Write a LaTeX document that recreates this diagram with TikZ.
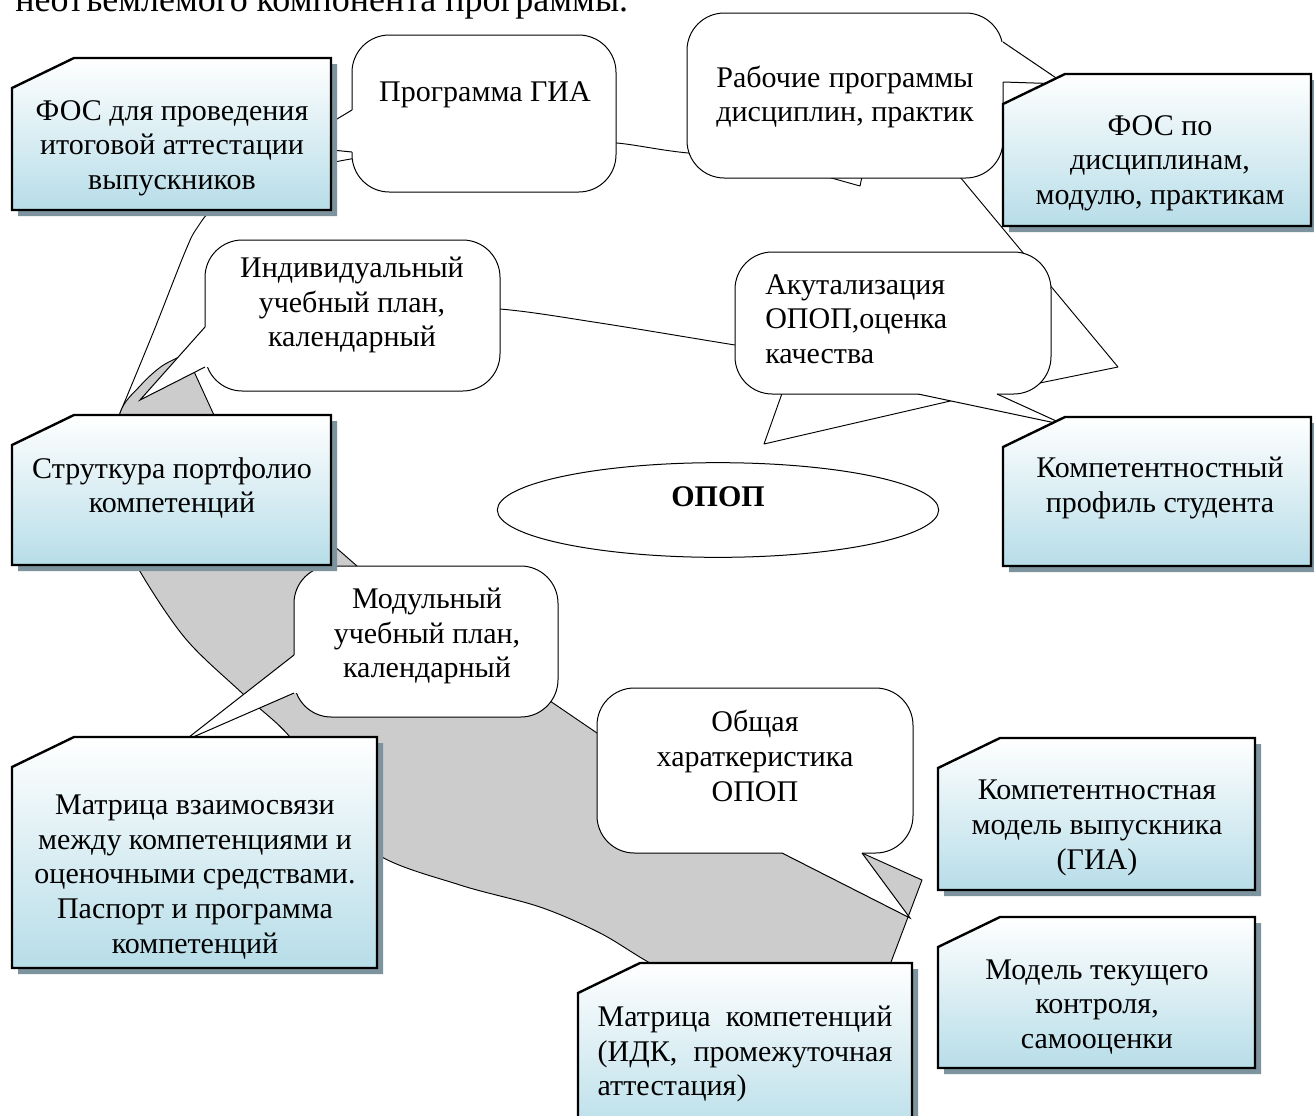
\documentclass[tikz,border=0pt]{standalone}
\usepackage{fontspec}
\setmainfont{Liberation Serif}
\usepackage{calc}
\usetikzlibrary{calc, shapes.geometric}
\definecolor{fosBlue}{RGB}{183,221,232}
\definecolor{fosShadow}{RGB}{125,148,158}
\definecolor{ringGray}{RGB}{204,204,204}

% snipped box with shadow: x1, y1, x2, y2
\newcommand{\fosbox}[4]{%
  \fill[fosShadow] (#1+6,#2+36) -- (#1+68,#2+6) -- (#3+6,#2+6) -- (#3+6,#4+6) -- (#1+6,#4+6) -- cycle;
  \draw[fosframe] (#1,#2+30) -- (#1+62,#2) -- (#3,#2) -- (#3,#4) -- (#1,#4) -- cycle;}
% callout tail: base 1, tip, base 2, shift into the body
\newcommand{\bubbletail}[4]{%
  \fill[white] (#1) -- (#2) -- (#3) -- ($(#3)+(#4)$) -- ($(#1)+(#4)$) -- cycle;
  \draw[bubbleline] (#1) -- (#2) -- (#3);}

\begin{document}
\begin{tikzpicture}[
        x=0.75pt, y=-0.75pt,
        lbl/.style={font=\fontsize{22.5}{26}\selectfont, align=center, inner sep=0pt},
        bubble/.style={draw, fill=white, line width=0.75pt, rounded corners=28pt},
        bubbleline/.style={draw, line width=0.75pt},
        ring/.style={draw, line width=0.7pt, line join=round},
        fosframe/.style={draw, line width=1.8pt, top color=white, bottom color=fosBlue}
    ]
        \fill[white] (0,0) rectangle (1314,1115);
        \useasboundingbox (0,0) rectangle (1314,1115);

        % Text line above the figure
        \node[anchor=base west, inner sep=0pt, font=\fontsize{27}{32}\selectfont] (prevline) at (15,11) {неотъемлемого компонента программы.};

        % Ring, upper part
        \draw[ring, fill=white]
            plot[smooth, tension=0.55] coordinates {(120,413) (153,333) (185,252) (197,228) (216,207) (270,180) (345,160) (450,147) (560,141) (617,143) (688,153) (800,161) (900,167) (955,171)}
            -- (1118,367) -- (1025,386)
            -- plot[smooth, tension=0.55] coordinates {(950,376) (850,363) (735,345) (600,323) (500,309) (400,306) (300,315) (230,334) (186,354)}
            -- (190,395) -- cycle;

        % Ring, grey part
        \draw[ring, fill=ringGray]
            plot[smooth, tension=0.55] coordinates {(186,354) (162,366) (140,386) (120,413) (112,470) (120,525) (138,568) (185,638) (242,693) (290,737) (330,798) (377,854) (460,885) (540,907) (600,933) (650,963) (720,1000) (800,1012)}
            -- (888,970) -- (922,880) -- (862,853) -- (800,828) -- (597,733) -- (553,703) -- (540,694)
            -- (380,586) -- (357,566) -- (333,545) -- (320,534) -- (225,435) -- (213,413) -- cycle;

        % Wedges behind the callouts
        \draw[ring, fill=white] (810,172) -- (860,186) -- (863,172);
        \draw[ring, fill=white] (785,385) -- (764,444) -- (998,390);

        % Centre
        \node[draw, ellipse, line width=0.75pt, minimum width=331pt, minimum height=71pt] (opop) at (718,510) {};
        \node[lbl, font=\fontsize{22.5}{26}\selectfont\bfseries] (opoptxt) at (718,497) {ОПОП};

        % Callouts
        \draw[bubble] (352,35) rectangle (616,192);
        \bubbletail{352,110}{292,146}{352,152}{5,0}
        \draw[bubble] (687,13) rectangle (1003,178);
        \bubbletail{1003,42}{1065,84}{1003,82}{-5,0}
        \draw[bubble] (205,240) rectangle (500,391);
        \bubbletail{205,327}{140,400}{205,367}{5,0}
        \draw[bubble] (735,252) rectangle (1051,394);
        \bubbletail{918,394}{1065,425}{997,394}{0,-5}
        \draw[bubble] (294,566) rectangle (558,717);
        \bubbletail{294,655}{184,741}{294,693}{5,0}
        \draw[bubble] (597,688) rectangle (913,853);
        \bubbletail{782,853}{910,918}{862,853}{0,-5}

        % Boxes
        \fosbox{12}{58}{331}{210}
        \fosbox{1003}{74}{1311}{226}
        \fosbox{12}{415}{331}{565}
        \fosbox{1003}{417}{1311}{566}
        \fosbox{12}{737}{377}{968}
        \fosbox{578}{963}{912}{1140}
        \fosbox{938}{738}{1255}{890}
        \fosbox{938}{917}{1255}{1068}

        % Labels
        \node[lbl] (tfosgia) at (172,148) {ФОС для проведения\\итоговой аттестации\\выпускников};
        \node[lbl] (tgia) at (485,95) {Программа ГИА};
        \node[lbl] (trp) at (845,97) {\makebox[\widthof{дисциплин, практик}][s]{Рабочие программы}\\дисциплин, практик};
        \node[lbl] (tfosd) at (1160,163) {ФОС по\\дисциплинам,\\модулю, практикам};
        \node[lbl] (tiup) at (352,305) {Индивидуальный\\учебный план,\\календарный};
        \node[lbl, align=left, anchor=west] (takt) at (765,319) {Акутализация\\ОПОП,оценка\\качества};
        \node[lbl] (tport) at (172,488) {Струткура портфолио\\компетенций};
        \node[lbl] (tprof) at (1160,488) {Компетентностный\\профиль студента};
        \node[lbl] (tmup) at (427,636) {Модульный\\учебный план,\\календарный};
        \node[lbl] (tobsh) at (755,756) {Общая\\хараткеристика\\ОПОП};
        \node[lbl] (tmatr) at (195,877) {Матрица взаимосвязи\\между компетенциями и\\оценочными средствами.\\Паспорт и программа\\компетенций};
        \node[lbl] (tmodel) at (1097,828) {Компетентностная\\модель выпускника\\(ГИА)};
        \node[lbl] (ttek) at (1097,1007) {Модель текущего\\контроля,\\самооценки};
        \node[lbl, text width=221pt, align=justify] (tidk) at (745,1054) {Матрица компетенций\linebreak (ИДК, промежуточная\linebreak аттестация)};
\end{tikzpicture}
\end{document}
